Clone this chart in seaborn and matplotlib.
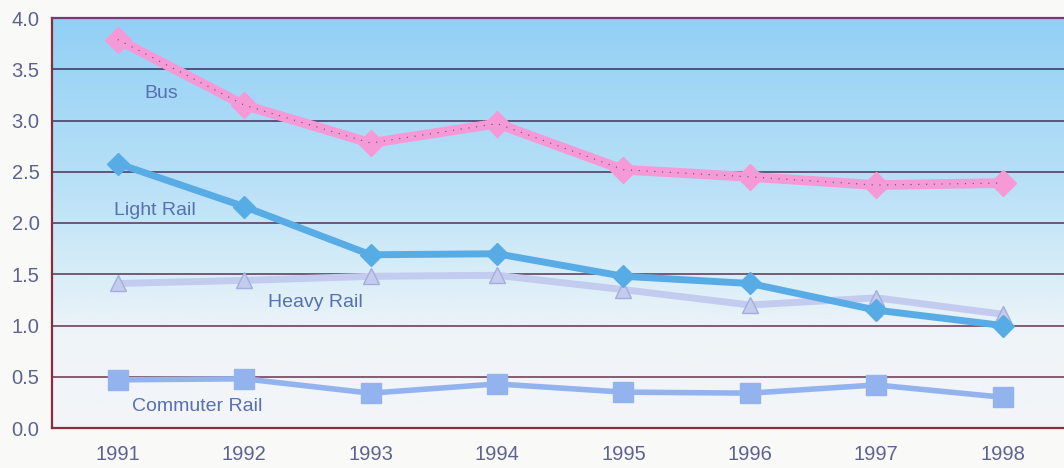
import numpy as np
import pandas as pd
import seaborn as sns
import matplotlib.pyplot as plt
from matplotlib.colors import LinearSegmentedColormap

years = ['1991', '1992', '1993', '1994', '1995', '1996', '1997', '1998']
bus = [3.79, 3.15, 2.78, 2.97, 2.52, 2.45, 2.37, 2.39]
light_rail = [2.58, 2.16, 1.69, 1.70, 1.48, 1.41, 1.15, 1.00]
heavy_rail = [1.41, 1.44, 1.48, 1.49, 1.35, 1.20, 1.27, 1.11]
commuter_rail = [0.47, 0.48, 0.34, 0.43, 0.35, 0.34, 0.42, 0.30]

df = pd.DataFrame({'year': years, 'Bus': bus, 'Light Rail': light_rail,
                   'Heavy Rail': heavy_rail, 'Commuter Rail': commuter_rail})
long = df.melt(id_vars='year', var_name='mode', value_name='value')

sns.set_style('white')
plt.rcParams['font.family'] = ['Liberation Sans', 'DejaVu Sans']

fig = plt.figure(figsize=(10.64, 4.68), dpi=100, facecolor='#f9f9f7')
ax = fig.add_axes([52 / 1064, 40 / 468, 1014 / 1064, 410 / 468])

# gradient background: sky blue at top fading to near white below 1.0
grad = LinearSegmentedColormap.from_list(
    'bg', [(0.0, '#f3f5f8'), (0.22, '#eff4f8'), (0.38, '#d8edf8'),
           (0.6, '#b8e0f7'), (1.0, '#92d0f5')])
ax.imshow(np.linspace(0, 1, 256).reshape(-1, 1), aspect='auto', cmap=grad,
          origin='lower', extent=[-0.52, 7.5, 0, 4.0], zorder=0)

styles = {
    'Bus': dict(color='#f59ad6', marker='D', ms=13, lw=7, mec='#f59ad6'),
    'Light Rail': dict(color='#58ace6', marker='D', ms=11, lw=5, mec='#58ace6'),
    'Heavy Rail': dict(color='#c3cbee', marker='^', ms=11, lw=5, mec='#a4aedc'),
    'Commuter Rail': dict(color='#93b3ef', marker='s', ms=14, lw=4, mec='#93b3ef'),
}
for mode in ['Commuter Rail', 'Heavy Rail', 'Light Rail', 'Bus']:
    st = styles[mode]
    sns.lineplot(data=long[long['mode'] == mode], x='year', y='value', ax=ax,
                 color=st['color'], lw=st['lw'], marker=st['marker'],
                 markersize=st['ms'], markeredgewidth=1, markeredgecolor=st['mec'],
                 zorder=3, legend=False, sort=False)
# thin dotted trace on the bus line
ax.plot(years, bus, color='#5a4a7a', lw=0.8, ls=(0, (1, 6)), zorder=4)

# gridlines: navy at top shading to maroon at bottom
ticks = np.arange(0.5, 4.0, 0.5)
for t in ticks:
    frac = t / 4.0
    c = np.array([0.45, 0.20, 0.28]) * (1 - frac) + np.array([0.18, 0.20, 0.38]) * frac
    ax.axhline(t, color=c, lw=1.1, zorder=1)

ax.set_xlim(-0.52, 7.5)
ax.set_ylim(0, 4.0)
ax.set_yticks(np.arange(0, 4.01, 0.5))
ax.set_yticklabels([f'{v:.1f}' for v in np.arange(0, 4.01, 0.5)])
ax.set_xlabel('')
ax.set_ylabel('')
ax.tick_params(axis='both', length=0, labelsize=14.5, colors='#5d6390')
ax.tick_params(axis='x', pad=12)
ax.tick_params(axis='y', pad=9)

for side in ['left', 'bottom']:
    ax.spines[side].set_color('#8a2c3c')
    ax.spines[side].set_linewidth(1.6)
ax.spines['top'].set_color('#7a3a70')
ax.spines['top'].set_linewidth(1.6)
ax.spines['right'].set_visible(False)

lab = dict(color='#5670b0', fontsize=14, zorder=5)
ax.text(0.21, 3.22, 'Bus', **lab)
ax.text(-0.03, 2.08, 'Light Rail', **lab)
ax.text(1.19, 1.18, 'Heavy Rail', **lab)
ax.text(0.11, 0.17, 'Commuter Rail', **lab)

fig.savefig('out.png', dpi=100, facecolor=fig.get_facecolor())
